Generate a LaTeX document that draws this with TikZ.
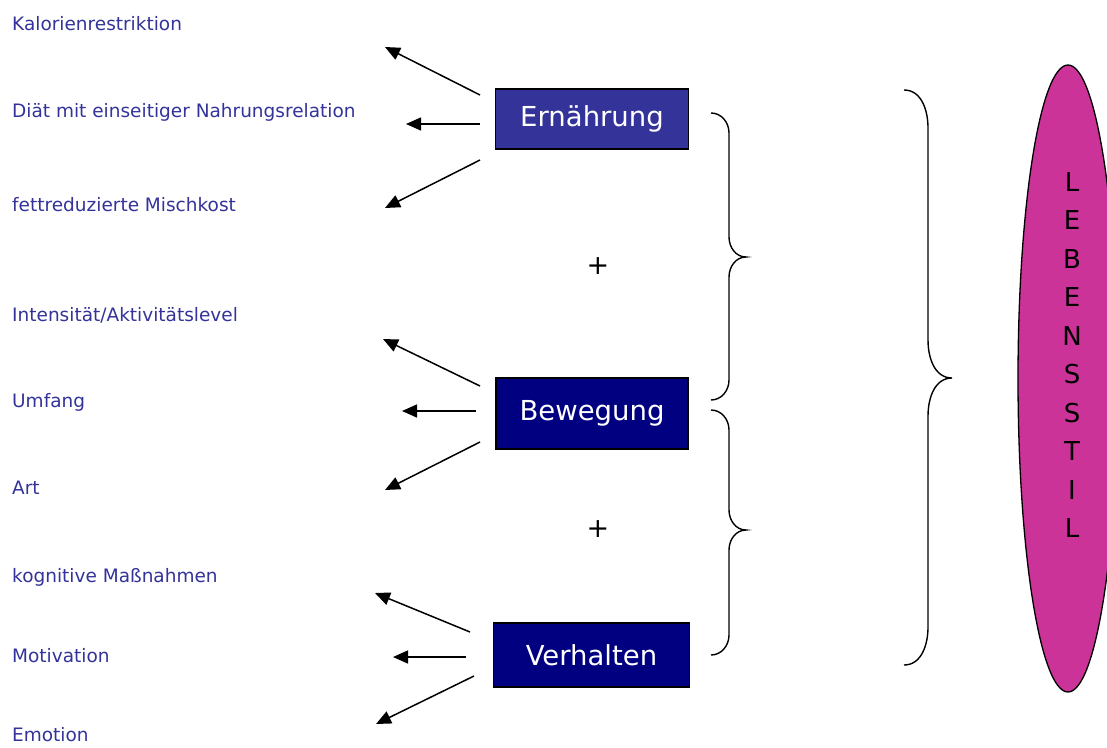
\documentclass[tikz,border=0pt]{standalone}
\usepackage{fontspec}
\setmainfont{DejaVu Sans}
\usetikzlibrary{arrows.meta,shapes.geometric}
\definecolor{lbl}{HTML}{333399}
\definecolor{boxA}{HTML}{333399}
\definecolor{boxB}{HTML}{000080}
\definecolor{magenta}{HTML}{CC3399}
\tikzset{
  lab/.style={anchor=west,text=lbl,font=\fontsize{18.5}{21}\selectfont,inner sep=0pt},
  bx/.style={draw=black,line width=1.3pt,text=white,inner sep=0pt,font=\fontsize{27.5}{30}\selectfont},
  arr/.style={line width=1.5pt,-{Triangle[length=15pt,width=13pt]}},
  br/.style={line width=1.4pt},
  plus/.style={font=\fontsize{27}{30}\selectfont},
}
\begin{document}
\begin{tikzpicture}[x=1pt,y=-1pt]
\useasboundingbox (0,0) rectangle (1107,747);
\clip (0,0) rectangle (1107,747);
% labels
\node[lab] (l1) at (12,24) {Kalorienrestriktion};
\node[lab] (l2) at (12,112) {Diät mit einseitiger Nahrungsrelation};
\node[lab] (l3) at (12,205) {fettreduzierte Mischkost};
\node[lab] (l4) at (12,315) {Intensität/Aktivitätslevel};
\node[lab] (l5) at (12,402) {Umfang};
\node[lab] (l6) at (12,488) {Art};
\node[lab] (l7) at (12,577) {kognitive Maßnahmen};
\node[lab] (l8) at (12,656) {Motivation};
\node[lab] (l9) at (12,735) {Emotion};
% boxes
\node[bx,fill=boxA,minimum width=193pt,minimum height=60pt] (ern) at (592,119) {Ernährung};
\node[bx,fill=boxB,minimum width=192pt,minimum height=71pt] (bew) at (592,413.5) {Bewegung};
\node[bx,fill=boxB,minimum width=196pt,minimum height=64pt] (ver) at (591.5,655) {Verhalten};
% arrow coordinates
\coordinate (e1s) at (480,95);  \coordinate (e1t) at (385,47);
\coordinate (e2s) at (480,124); \coordinate (e2t) at (406,124);
\coordinate (e3s) at (480,160); \coordinate (e3t) at (385,208);
\coordinate (b1s) at (480,386); \coordinate (b1t) at (383,339);
\coordinate (b2s) at (476,411); \coordinate (b2t) at (402,411);
\coordinate (b3s) at (480,442); \coordinate (b3t) at (385,490);
\coordinate (v1s) at (470,632); \coordinate (v1t) at (375,593);
\coordinate (v2s) at (466,657); \coordinate (v2t) at (393,657);
\coordinate (v3s) at (474,676); \coordinate (v3t) at (376,724);
\foreach \a in {e1,e2,e3,b1,b2,b3,v1,v2,v3}{\draw[arr] (\a s) -- (\a t);}
% plus signs
\node[plus] (p1) at (598,266) {+};
\node[plus] (p2) at (598,529) {+};
% braces
\draw[br] (711,113) to[out=0,in=90] (729,133) -- (729,237) to[out=-90,in=180] (746,257)
          to[out=180,in=90] (729,277) -- (729,380) to[out=-90,in=0] (711,400);
\draw[br] (711,410) to[out=0,in=90] (729,430) -- (729,510) to[out=-90,in=180] (746,530)
          to[out=180,in=90] (729,550) -- (729,635) to[out=-90,in=0] (711,655);
\draw[br] (904,90) to[out=0,in=90] (928,128) -- (928,340) to[out=-90,in=180] (952,378)
          to[out=180,in=90] (928,416) -- (928,627) to[out=-90,in=0] (904,665);
% ellipse
\node[ellipse,draw=black,line width=1.3pt,fill=magenta,minimum width=100pt,minimum height=627pt,inner sep=0pt] (leb) at (1068,378.5) {};
\node[align=center,font=\fontsize{26}{38.5}\selectfont,inner sep=0pt] (lebt) at (1072,355) {L\\E\\B\\E\\N\\S\\S\\T\\I\\L};
\end{tikzpicture}
\end{document}
